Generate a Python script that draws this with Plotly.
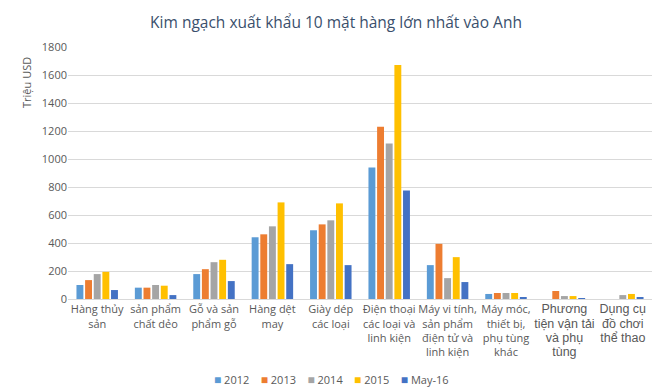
import plotly.graph_objects as go

categories = [
    "Hàng thủy<br>sản",
    "sản phẩm<br>chất dẻo",
    "Gỗ và sản<br>phẩm gỗ",
    "Hàng dệt<br>may",
    "Giày dép<br>các loại",
    "Điện thoại<br>các loại và<br>linh kiện",
    "Máy vi tính,<br>sản phẩm<br>điện tử và<br>linh kiện",
    "Máy móc,<br>thiết bị,<br>phụ tùng<br>khác",
    "<span style='font-size:12.5px;font-family:Liberation Sans'>Phương<br>tiện vận tải<br>và phụ<br>tùng</span>",
    "<span style='font-size:12.5px;font-family:Liberation Sans'>Dụng cụ<br>đồ chơi<br>thể thao</span>",
]
cat_ids = list(range(len(categories)))

v2012 = [100, 81, 178, 441, 491, 939, 242, 36, 0, 0]
v2013 = [135, 81, 213, 462, 533, 1230, 394, 43, 57, 0]
v2014 = [178, 100, 263, 519, 562, 1110, 149, 43, 21, 28]
v2015 = [194, 95, 280, 690, 683, 1671, 299, 43, 21, 36]
vMay16 = [64, 28, 128, 249, 242, 775, 121, 14, 7, 14]

series_names = ["2012", "2013", "2014", "2015", "May-16"]
series_vals = [v2012, v2013, v2014, v2015, vMay16]
colors = ["#5B9BD5", "#ED7D31", "#A5A5A5", "#FFC000", "#4472C4"]

y_ticks = [0, 200, 400, 600, 800, 1000, 1200, 1400, 1600, 1800]

fig = go.Figure()
for name, vals, col in zip(series_names, series_vals, colors):
    fig.add_trace(go.Bar(x=cat_ids, y=vals, name=name, marker_color=col,
                         marker_line_width=0, showlegend=False))

legend_text = "&nbsp;&nbsp;&nbsp;&nbsp;".join(
    f"<span style='color:{c};font-size:12px'>■</span> {n}"
    for n, c in zip(series_names, colors))

font_family = "Open Sans, Noto Sans, sans-serif"
fig.update_layout(
    width=660, height=382,
    margin=dict(l=60, r=16, t=39, b=91),
    paper_bgcolor="white", plot_bgcolor="white",
    barmode="group", bargap=0.26, bargroupgap=0.2,
    font=dict(family=font_family, color="#595959", size=11),
    title=dict(text="Kim ngạch xuất khẩu 10 mặt hàng lớn nhất vào Anh",
               x=0.497, xref="container", xanchor="center", y=0.962, yanchor="middle",
               font=dict(size=15.5, color="#3A4F6C", family=font_family)),
    xaxis=dict(tickmode="array", tickvals=cat_ids, ticktext=categories,
               range=[-0.5, 9.5], showgrid=False, showline=True,
               linecolor="#D9D9D9", linewidth=1, ticks="", automargin=False,
               tickfont=dict(size=11, color="#595959"), tickangle=0),
    yaxis=dict(range=[0, 1800], tickvals=y_ticks, showgrid=True,
               gridcolor="#D9D9D9", gridwidth=1, zeroline=False,
               showline=False, ticks="", ticklen=0, automargin=False,
               tickfont=dict(size=11, color="#595959")),
    showlegend=False,
    annotations=[
        dict(text="Triệu USD", xref="paper", yref="paper",
             x=-0.072, y=0.861, showarrow=False, textangle=-90,
             font=dict(size=11, color="#595959"),
             xanchor="center", yanchor="middle"),
        dict(text=legend_text, xref="paper", yref="paper",
             x=0.452, y=-0.321, showarrow=False,
             font=dict(size=11, color="#595959"),
             xanchor="center", yanchor="middle"),
    ],
)

fig.write_html("out.html")
